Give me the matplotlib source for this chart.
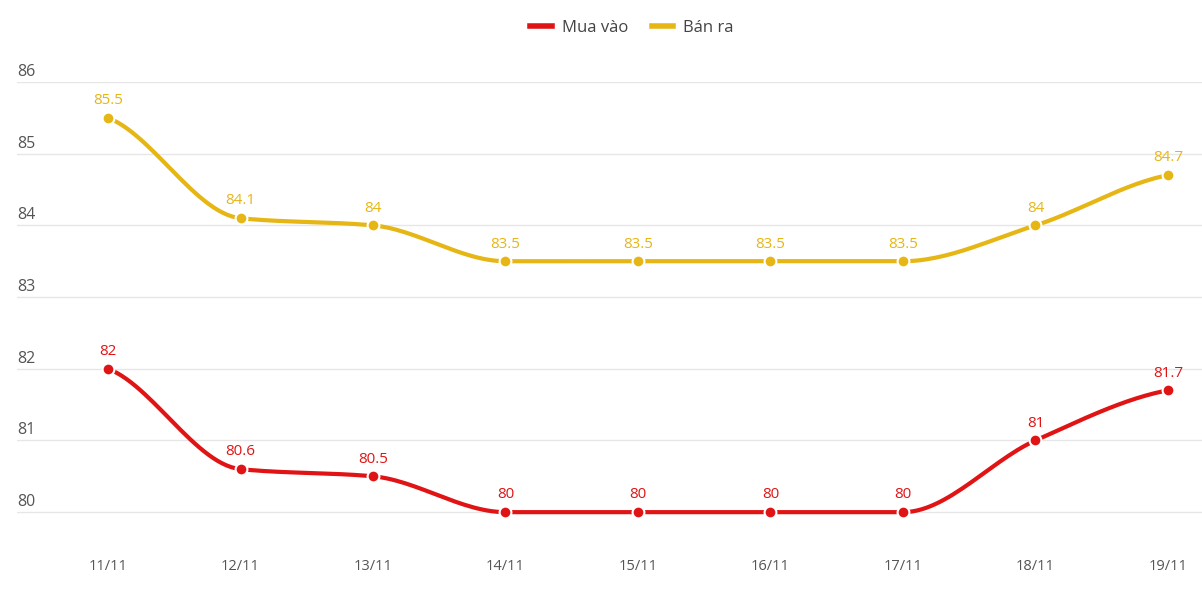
import matplotlib.pyplot as plt
import numpy as np
from matplotlib.lines import Line2D

# du lieu
ngay = ["11/11", "12/11", "13/11", "14/11", "15/11", "16/11", "17/11", "18/11", "19/11"]
mua_vao = [82, 80.6, 80.5, 80, 80, 80, 80, 81, 81.7]
ban_ra = [85.5, 84.1, 84, 83.5, 83.5, 83.5, 83.5, 84, 84.7]
yticks = [80, 81, 82, 83, 84, 85, 86]

RED = "#e01414"
GOLD = "#e6b614"

plt.rcParams['font.family'] = ['Open Sans', 'DejaVu Sans']


def pchip(x, y, n=30):
    # monotone cubic, cho duong cong mem
    x = np.asarray(x, float)
    y = np.asarray(y, float)
    h = np.diff(x)
    d = np.diff(y) / h
    m = np.zeros_like(y)
    for k in range(1, len(y) - 1):
        if d[k - 1] * d[k] > 0:
            w1 = 2 * h[k] + h[k - 1]
            w2 = h[k] + 2 * h[k - 1]
            m[k] = (w1 + w2) / (w1 / d[k - 1] + w2 / d[k])
    m[0] = d[0] * 0.5
    m[-1] = d[-1] * 0.5
    xs, ys = [], []
    for k in range(len(x) - 1):
        t = np.linspace(0, 1, n)
        h00 = 2 * t**3 - 3 * t**2 + 1
        h10 = t**3 - 2 * t**2 + t
        h01 = -2 * t**3 + 3 * t**2
        h11 = t**3 - t**2
        xs.append(x[k] + t * h[k])
        ys.append(h00 * y[k] + h10 * h[k] * m[k] + h01 * y[k + 1] + h11 * h[k] * m[k + 1])
    return np.concatenate(xs), np.concatenate(ys)


fig = plt.figure(figsize=(12.02, 6.01), dpi=100)
ax = fig.add_axes([17 / 1202, 1 - 548 / 601, (1202 - 17) / 1202, (548 - 82) / 601])

x = np.arange(len(ngay))
for vals, col in [(mua_vao, RED), (ban_ra, GOLD)]:
    sx, sy = pchip(x, vals)
    ax.plot(sx, sy, color=col, lw=3, solid_capstyle='round', zorder=3)
    ax.plot(x, vals, 'o', color=col, ms=8.5, mec='white', mew=1.5, zorder=4)
    for xi, v in zip(x, vals):
        ax.annotate(f"{v:g}", (xi, v), xytext=(0, 7), textcoords='offset points',
                    ha='center', va='bottom', color=col, fontsize=11)

ax.set_xlim(-0.687, 8.257)
ax.set_ylim(79.5, 86)
ax.set_yticks(yticks)
ax.yaxis.grid(True, color='#e6e6e6', lw=1)
ax.set_yticklabels([])
ax.tick_params(axis='y', length=0)
for t in yticks:
    ax.text(0.0, t + 0.03, str(t), transform=ax.get_yaxis_transform(),
            ha='left', va='bottom', fontsize=11.5, color='#555555')
ax.set_xticks(x)
ax.set_xticklabels(ngay, fontsize=10.5, color='#555555')
ax.tick_params(axis='x', length=0, pad=8)
for s in ax.spines.values():
    s.set_visible(False)

handles = [Line2D([], [], color=RED, lw=4), Line2D([], [], color=GOLD, lw=4)]
fig.legend(handles, ["Mua vào", "Bán ra"], loc='center', bbox_to_anchor=(632 / 1202, 1 - 28 / 601),
           ncol=2, frameon=False, fontsize=12, handlelength=1.3, columnspacing=1.4,
           handletextpad=0.6, labelcolor='#444444')

fig.savefig("out.png", dpi=100)
